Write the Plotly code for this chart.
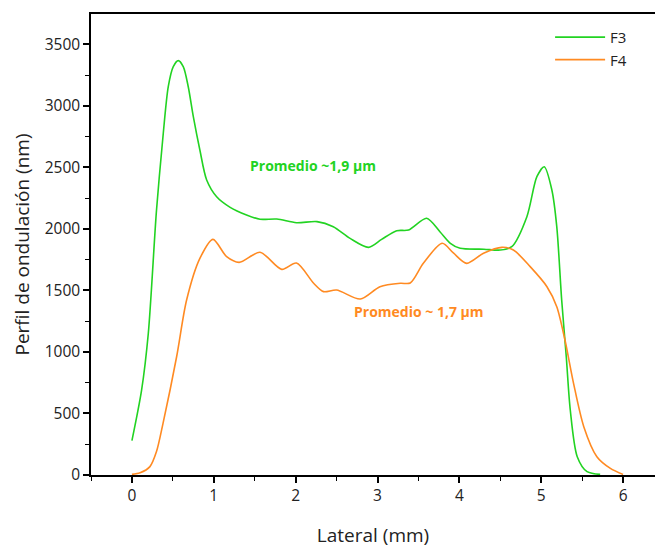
import plotly.graph_objects as go

# F3 profile (green)
f3_x = [0.0, 0.118, 0.2, 0.3, 0.383, 0.444, 0.505, 0.566, 0.627, 0.688, 0.75, 0.83, 0.913, 1.035, 1.2, 1.4,
        1.565, 1.77, 2.01, 2.26, 2.46, 2.665, 2.89, 3.05, 3.235, 3.38, 3.6, 3.765, 3.89, 4.01, 4.3, 4.5, 4.64,
        4.825, 4.947, 5.037, 5.13, 5.19, 5.25, 5.306, 5.355, 5.44, 5.56, 5.72]
f3_y = [280, 690, 1150, 2150, 2777, 3155, 3318, 3367, 3318, 3155, 2912, 2641, 2397, 2261, 2175, 2113,
        2078, 2080, 2050, 2059, 2018, 1923, 1850, 1915, 1985, 1991, 2086, 1975, 1883, 1842, 1835, 1828, 1855,
        2099, 2424, 2505, 2316, 2018, 1422, 961, 528, 149, 27, 5]

# F4 profile (orange)
f4_x = [0.0, 0.1, 0.22, 0.3, 0.38, 0.546, 0.668, 0.83, 0.99, 1.157, 1.31, 1.565, 1.83, 2.01, 2.22, 2.34, 2.5,
        2.79, 3.03, 3.28, 3.4, 3.56, 3.79, 3.93, 4.09, 4.295, 4.52, 4.66, 4.865, 5.07, 5.19, 5.29, 5.395, 5.52,
        5.68, 5.845, 6.0]
f4_y = [5, 18, 68, 190, 420, 961, 1422, 1760, 1915, 1774, 1728, 1810, 1671, 1722, 1558, 1490, 1503,
        1430, 1530, 1558, 1560, 1720, 1883, 1802, 1720, 1802, 1850, 1828, 1693, 1530, 1368, 1097, 745, 393,
        149, 54, 5]

series_names = ["F3", "F4"]
GREEN = "#22d322"
ORANGE = "#ff8a22"

fig = go.Figure()
fig.add_trace(go.Scatter(x=f3_x, y=f3_y, mode="lines", name=series_names[0],
                         line=dict(color=GREEN, width=1.6, shape="spline", smoothing=0.8)))
fig.add_trace(go.Scatter(x=f4_x, y=f4_y, mode="lines", name=series_names[1],
                         line=dict(color=ORANGE, width=1.6, shape="spline", smoothing=0.8)))

fig.add_annotation(x=2.21, y=2519, text="<b>Promedio ~1,9 µm</b>", showarrow=False,
                   font=dict(color=GREEN, size=14, family="Open Sans"))
fig.add_annotation(x=3.51, y=1325, text="<b>Promedio ~ 1,7 µm</b>", showarrow=False,
                   font=dict(color=ORANGE, size=14, family="Open Sans"))

axis_common = dict(showgrid=False, zeroline=False, showline=True, linecolor="black", linewidth=1.5,
                   ticks="outside", ticklen=6, tickwidth=1.5, tickcolor="black", automargin=False,
                   tickfont=dict(size=15.5, color="#222", family="Open Sans"))

fig.update_xaxes(range=[-0.5, 6.39], dtick=1, tick0=0, mirror=True,
                 minor=dict(ticks="outside", ticklen=4, tickwidth=1.2, dtick=0.5, tick0=0, tickcolor="black"),
                 title=dict(text="Lateral (mm)", font=dict(size=19, color="#222", family="Open Sans"), standoff=28),
                 **axis_common)
fig.update_yaxes(range=[0, 3746], dtick=500, tick0=0,
                 minor=dict(ticks="outside", ticklen=4, tickwidth=1.2, dtick=250, tick0=0, tickcolor="black"),
                 title=dict(text="Perfil de ondulación (nm)", font=dict(size=19, color="#222", family="Open Sans"),
                            standoff=10),
                 **axis_common)

fig.update_layout(width=655, height=548, margin=dict(l=91, r=0, t=14, b=73),
                  plot_bgcolor="white", paper_bgcolor="white",
                  legend=dict(x=0.814, y=0.985, xanchor="left", yanchor="top", bgcolor="rgba(0,0,0,0)",
                              itemwidth=50,
                              font=dict(size=15, color="#222", family="Open Sans"), tracegroupgap=0))

fig.write_html("out.html", config={"displayModeBar": False},
               post_script="document.body.style.margin='0px';document.body.style.overflow='hidden';")
